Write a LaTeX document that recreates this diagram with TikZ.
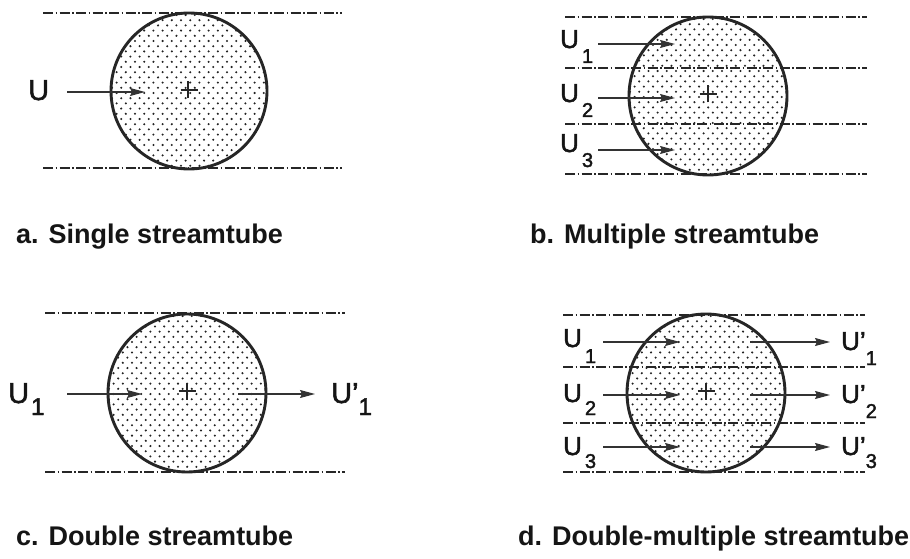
\documentclass[tikz,border=0pt]{standalone}
\usepackage{fontspec}
\setmainfont{Liberation Sans}
\newfontfamily\lblfont[FakeBold=2]{Liberation Sans}
\usetikzlibrary{arrows.meta}
\definecolor{ink}{HTML}{262626}
\definecolor{txt}{HTML}{151515}
\definecolor{dotc}{HTML}{222222}
\definecolor{arr}{HTML}{333333}
\newcommand{\stippledisc}[3]{%
  \begin{scope}
    \clip (#1,#2) circle[radius=#3];
    \foreach \i in {0,...,31}{%
      \foreach \j in {0,...,18}{%
        \pgfmathsetmacro{\px}{#1-#3+1+\j*9.2+mod(\i,2)*4.6}%
        \pgfmathsetmacro{\py}{#2-#3+2+\i*5.2}%
        \fill[dotc] (\px,\py) circle[radius=1.15];
      }%
    }%
  \end{scope}}
\newcommand{\lowsub}[3]{\raisebox{-#1}{\fontsize{#2}{#2}\selectfont #3}}
\begin{document}
\begin{tikzpicture}[x=1pt,y=-1pt,
  tube/.style={line width=1.6pt, draw=ink, dash pattern=on 10pt off 2.5pt on 1.5pt off 2.5pt},
  rotor/.style={circle, draw=ink, line width=2.9pt, inner sep=0pt, outer sep=0pt},
  vel/.style={line width=1.1pt, draw=arr, -{Stealth[length=15pt,width=8pt,inset=2pt]}},
  plusmark/.style={line width=2.5pt, draw=ink},
  lbl/.style={inner sep=0pt, anchor=base west, text=txt, font=\lblfont\fontsize{26}{26}\selectfont},
  biglbl/.style={lbl, font=\lblfont\fontsize{29}{29}\selectfont},
  captxt/.style={inner sep=0pt, anchor=base west, text=txt, font=\bfseries\fontsize{27}{27}\selectfont}]
\useasboundingbox (0,0) rectangle (910,559);

% ---------- a. single streamtube ----------
\stippledisc{189}{91}{78}
\coordinate (a1l) at (43,13);  \coordinate (a1r) at (342,13);
\coordinate (a2l) at (43,168); \coordinate (a2r) at (342,168);
\draw[tube] (a1l) -- (a1r);
\draw[tube] (a2l) -- (a2r);
\node[rotor, minimum size=156pt] (ra) at (189,91) {};
\draw[plusmark] ([xshift=-8.5pt,yshift=1pt]ra.center) -- ([xshift=8.5pt,yshift=1pt]ra.center);
\draw[plusmark] ([xshift=-1pt,yshift=-7.5pt]ra.center) -- ([xshift=-1pt,yshift=9.5pt]ra.center);
\node[biglbl] (ua) at (28,100) {U};
\coordinate (as) at (67,92); \coordinate (ae) at (145,92);
\draw[vel] (as) -- (ae);
\node[captxt] (capa) at (16,243) {a. Single streamtube};

% ---------- b. multiple streamtube ----------
\stippledisc{708}{96}{79}
\foreach \y/\n in {17/1,68/2,124/3,174/4}{
  \coordinate (bl\n) at (565,\y); \coordinate (br\n) at (867,\y);
  \draw[tube] (bl\n) -- (br\n);
}
\node[rotor, minimum size=158pt] (rb) at (708,96) {};
\draw[plusmark] ([xshift=-8.5pt,yshift=2pt]rb.center) -- ([xshift=8.5pt,yshift=2pt]rb.center);
\draw[plusmark] ([yshift=-6.5pt]rb.center) -- ([yshift=10.5pt]rb.center);
\node[lbl] (ub1) at (560,48)  {U\kern3pt\lowsub{15pt}{20}{1}};
\node[lbl] (ub2) at (560,102) {U\kern3pt\lowsub{15pt}{20}{2}};
\node[lbl] (ub3) at (560,152) {U\kern3pt\lowsub{15pt}{20}{3}};
\foreach \y/\n in {44/1,98/2,150/3}{
  \coordinate (bs\n) at (598,\y); \coordinate (be\n) at (675,\y);
  \draw[vel] (bs\n) -- (be\n);
}
\node[captxt] (capb) at (530,243) {b. Multiple streamtube};

% ---------- c. double streamtube ----------
\stippledisc{187}{393}{79}
\coordinate (c1l) at (45,313);  \coordinate (c1r) at (345,313);
\coordinate (c2l) at (45,472);  \coordinate (c2r) at (345,472);
\draw[tube] (c1l) -- (c1r);
\draw[tube] (c2l) -- (c2r);
\node[rotor, minimum size=158pt] (rc) at (187,393) {};
\draw[plusmark] ([xshift=-8.5pt,yshift=2pt]rc.center) -- ([xshift=8.5pt,yshift=2pt]rc.center);
\draw[plusmark] ([yshift=-6.5pt]rc.center) -- ([yshift=10.5pt]rc.center);
\node[biglbl] (uc) at (8,403) {U\kern2pt\lowsub{12pt}{24}{1}};
\node[biglbl] (ucp) at (331,403) {U’\lowsub{12pt}{24}{1}};
\coordinate (cs1) at (67,394);  \coordinate (ce1) at (142,394);
\coordinate (cs2) at (238,394); \coordinate (ce2) at (315,394);
\draw[vel] (cs1) -- (ce1);
\draw[vel] (cs2) -- (ce2);
\node[captxt] (capc) at (16,545) {c. Double streamtube};

% ---------- d. double-multiple streamtube ----------
\stippledisc{706}{393}{79}
\foreach \y/\n in {315/1,367/2,423/3,472/4}{
  \coordinate (dl\n) at (563,\y); \coordinate (dr\n) at (865,\y);
  \draw[tube] (dl\n) -- (dr\n);
}
\node[rotor, minimum size=158pt] (rd) at (706,393) {};
\draw[plusmark] ([xshift=-8.5pt,yshift=2pt]rd.center) -- ([xshift=8.5pt,yshift=2pt]rd.center);
\draw[plusmark] ([yshift=-6.5pt]rd.center) -- ([yshift=10.5pt]rd.center);
\node[lbl] (ud1) at (563,347) {U\kern3pt\lowsub{16pt}{20}{1}};
\node[lbl] (ud2) at (563,402) {U\kern3pt\lowsub{13pt}{20}{2}};
\node[lbl] (ud3) at (563,455) {U\kern3pt\lowsub{13pt}{20}{3}};
\node[lbl] (udp1) at (841,350) {U’\lowsub{15pt}{20}{1}};
\node[lbl] (udp2) at (841,403) {U’\lowsub{15pt}{20}{2}};
\node[lbl] (udp3) at (841,455) {U’\lowsub{13pt}{20}{3}};
\foreach \y/\n in {342/1,395/2,447/3}{
  \coordinate (ds\n) at (603,\y); \coordinate (de\n) at (680,\y);
  \coordinate (dt\n) at (750,\y); \coordinate (df\n) at (830,\y);
  \draw[vel] (ds\n) -- (de\n);
  \draw[vel] (dt\n) -- (df\n);
}
\node[captxt] (capd) at (518,545) {d. Double-multiple streamtube};
\end{tikzpicture}
\end{document}
